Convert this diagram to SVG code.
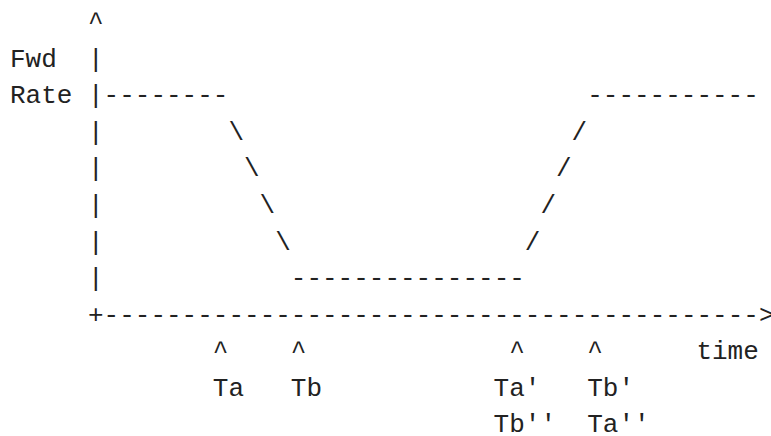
<svg xmlns="http://www.w3.org/2000/svg" width="771" height="436" viewBox="0 0 771 436">
<style>
text{font-family:"Liberation Mono","DejaVu Sans Mono",monospace;font-size:26px;fill:#222;white-space:pre}
</style>
<rect width="771" height="436" fill="#fff"/>
<g id="axes">
<text x="88" y="30">^</text>
<text x="10" y="66.6">Fwd</text>
<text x="10" y="103.2">Rate</text>
<text x="88" y="66.6">|</text>
<text x="88" y="103.2">|</text>
<text x="88" y="139.8">|</text>
<text x="88" y="176.4">|</text>
<text x="88" y="213">|</text>
<text x="88" y="249.6">|</text>
<text x="88" y="286.2">|</text>
<text x="88" y="322.8">+------------------------------------------&gt;</text>
</g>
<g id="curve">
<text x="103.6" y="103.2">--------</text>
<text x="587.2" y="103.2">-----------</text>
<text x="228.4" y="139.8">\</text>
<text x="244" y="176.4">\</text>
<text x="259.6" y="213">\</text>
<text x="275.2" y="249.6">\</text>
<text x="571.6" y="139.8">/</text>
<text x="556" y="176.4">/</text>
<text x="540.4" y="213">/</text>
<text x="524.8" y="249.6">/</text>
<text x="290.8" y="286.2">---------------</text>
</g>
<g id="labels">
<text x="212.8" y="359.4">^</text>
<text x="290.8" y="359.4">^</text>
<text x="509.2" y="359.4">^</text>
<text x="587.2" y="359.4">^</text>
<text x="696.4" y="359.4">time</text>
<text x="212.8" y="396">Ta</text>
<text x="290.8" y="396">Tb</text>
<text x="493.6" y="396">Ta'</text>
<text x="587.2" y="396">Tb'</text>
<text x="493.6" y="431.5">Tb''</text>
<text x="587.2" y="431.5">Ta''</text>
</g>
</svg>
